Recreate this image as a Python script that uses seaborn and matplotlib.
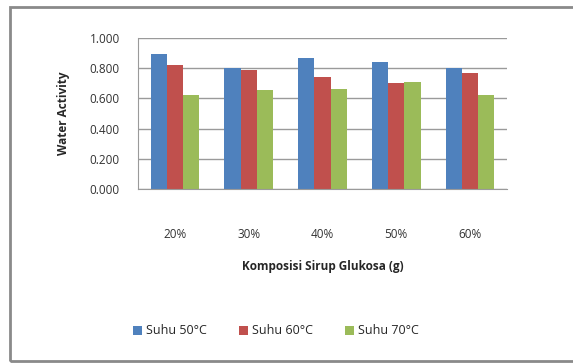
import pandas as pd
import numpy as np
import matplotlib.pyplot as plt
import seaborn as sns
from matplotlib.patches import Rectangle

komposisi = ["20%", "30%", "40%", "50%", "60%"]
suhu50 = [0.895, 0.800, 0.865, 0.840, 0.800]
suhu60 = [0.820, 0.790, 0.745, 0.700, 0.770]
suhu70 = [0.625, 0.655, 0.665, 0.710, 0.620]
series = ["Suhu 50°C", "Suhu 60°C", "Suhu 70°C"]
colors = ["#4F81BD", "#C0504D", "#9BBB59"]

df = pd.DataFrame({
    "Komposisi": komposisi * 3,
    "aw": suhu50 + suhu60 + suhu70,
    "Suhu": np.repeat(series, len(komposisi)),
})

sns.set_style("white")
plt.rcParams["font.family"] = ["Open Sans", "DejaVu Sans"]

fig = plt.figure(figsize=(5.73, 3.63), dpi=100)
ax = fig.add_axes([138/573, 1-189/363, (507-138)/573, (189-38)/363])
sns.barplot(data=df, x="Komposisi", y="aw", hue="Suhu", palette=colors,
            width=0.66, gap=0, saturation=1, linewidth=0, ax=ax, legend=True)

ax.set_ylim(0, 1.0)
ax.set_yticks(np.arange(0, 1.01, 0.2))
ax.set_yticklabels(["%.3f" % v for v in np.arange(0, 1.01, 0.2)], fontsize=8.5, color="#333333")
ax.tick_params(axis="x", length=0, labelsize=8.5, labelcolor="#333333", pad=28)
ax.tick_params(axis="y", length=3, color="#999999", pad=10)
ax.yaxis.grid(True, color="#9a9a9a", linewidth=1)
ax.set_axisbelow(True)
for s in ["top", "right"]:
    ax.spines[s].set_visible(False)
for s in ["left", "bottom"]:
    ax.spines[s].set_color("#9a9a9a")
ax.set_xlabel("Komposisi Sirup Glukosa (g)", fontsize=8.5, fontweight="bold", labelpad=14)
ax.set_ylabel("Water Activity", fontsize=8.5, fontweight="bold", labelpad=14)

handles, labels = ax.get_legend_handles_labels()
ax.legend_.remove()
fig.legend(handles, labels, loc="center", bbox_to_anchor=(276/573, 1-331/363),
           ncol=3, frameon=False, fontsize=9, handlelength=0.7, handleheight=0.7,
           handletextpad=0.3, columnspacing=2.6)

fig.patches.append(Rectangle((10/573, 2/363), 1, 354/363, transform=fig.transFigure,
                             fill=False, edgecolor="#8a8a8a", linewidth=2))

plt.savefig("out.png", dpi=100)
